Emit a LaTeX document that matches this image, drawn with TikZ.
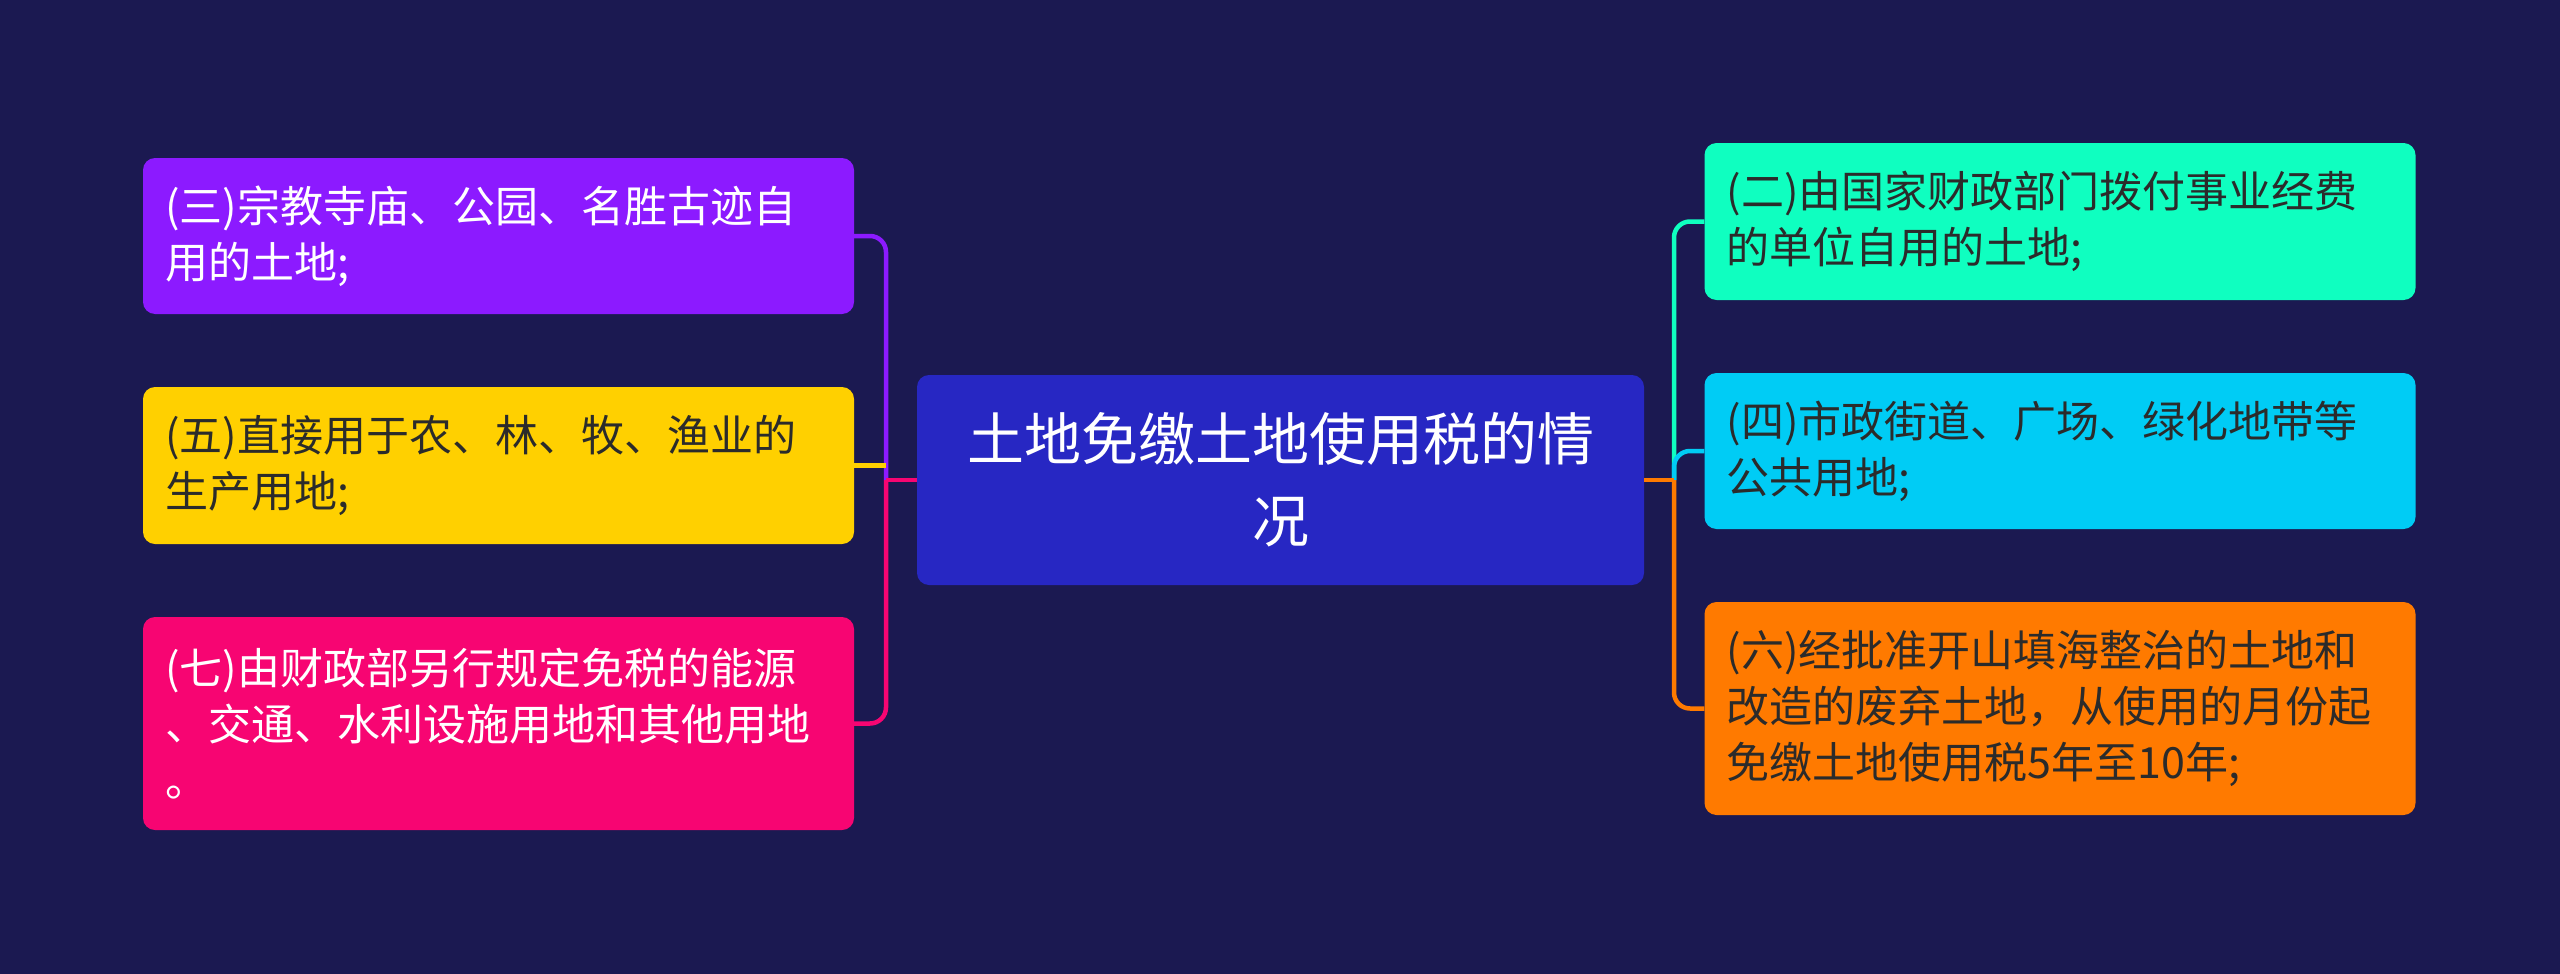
\documentclass[tikz,border=0pt]{standalone}
\usepackage{fontspec}
\setmainfont{Noto Sans CJK SC}
\definecolor{bg}{HTML}{1B1951}
\definecolor{cmain}{HTML}{2727C3}
\definecolor{cpurple}{HTML}{8C1AFF}
\definecolor{cyellow}{HTML}{FFD000}
\definecolor{cpink}{HTML}{F70572}
\definecolor{cteal}{HTML}{0FFFC0}
\definecolor{ccyan}{HTML}{00CCF5}
\definecolor{corange}{HTML}{FF7A00}
\definecolor{dtext}{HTML}{2B2B2B}
\begin{document}
\begin{tikzpicture}[x=1pt,y=-1pt,
  child/.style={rectangle, rounded corners=12pt, text width=667pt, inner xsep=22pt, inner ysep=0pt, align=left, font=\fontsize{43}{56}\selectfont},
  rootbox/.style={rectangle, rounded corners=12pt, fill=cmain, text=white, minimum width=727pt, minimum height=210pt, inner sep=0pt, align=center, font=\fontsize{57}{82}\selectfont},
  conn/.style={line width=4.5pt, rounded corners=16pt}]
\useasboundingbox[fill=bg] (0,0) rectangle (2560,974);
\node[rootbox] (root) at (1280.5,480) {土地免缴土地使用税的情\\况};
\node[child, fill=cpurple, text=white, minimum height=156pt] (p) at (498.5,236) {(三)宗教寺庙、公园、名胜古迹自\\用的土地;};
\node[child, fill=cyellow, text=dtext, minimum height=157pt] (y) at (498.5,465.5) {(五)直接用于农、林、牧、渔业的\\生产用地;};
\node[child, fill=cpink, text=white, minimum height=213pt] (k) at (498.5,723.5) {(七)由财政部另行规定免税的能源\\、交通、水利设施用地和其他用地\\。};
\node[child, fill=cteal, text=dtext, minimum height=157pt] (t) at (2060,221.5) {(二)由国家财政部门拨付事业经费\\的单位自用的土地;};
\node[child, fill=ccyan, text=dtext, minimum height=156pt] (c) at (2060,451) {(四)市政街道、广场、绿化地带等\\公共用地;};
\node[child, fill=corange, text=dtext, minimum height=213pt] (o) at (2060,708.5) {(六)经批准开山填海整治的土地和\\改造的废弃土地，从使用的月份起\\免缴土地使用税5年至10年;};
\coordinate (lx) at (886,480);
\coordinate (rx) at (1674,480);
\draw[conn, cpurple] (lx) |- (p.east);
\draw[line width=4.5pt, cyellow] (y.east) -- (lx |- y.east);
\draw[conn, cpink] (lx) |- (k.east);
\draw[line width=4.5pt, cpink] (root.west) -- (lx);
\draw[conn, cteal] (rx) |- (t.west);
\draw[conn, ccyan] (rx) |- (c.west);
\draw[conn, corange] (rx) |- (o.west);
\draw[line width=4.5pt, corange] (root.east) -- (rx);
\end{tikzpicture}
\end{document}
